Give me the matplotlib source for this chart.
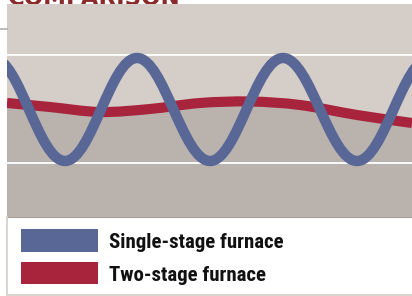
import matplotlib
matplotlib.use('Agg')
import matplotlib.pyplot as plt
from matplotlib.path import Path
from matplotlib.patches import PathPatch, Rectangle
from matplotlib.lines import Line2D
from matplotlib import font_manager

# ---- data ----
single_x = [-14, 58, 130, 203, 276, 350, 423]          # time of swing extremes
single_y = [159, 56, 159, 56, 159, 56, 159]             # temperature at extremes
two_x = [0, 43, 93, 143, 193, 243, 293, 350, 405]
two_y = [114, 110, 105, 108, 114, 115.5, 112, 102, 94]
grid_y = [54, 162]
labels = ['Single-stage furnace', 'Two-stage furnace']
title = 'COMPARISON'

BLUE = '#586796'
RED = '#a8243c'
LIGHT = '#d5cdc8'
DARK = '#bab2ad'

W, H = 412, 296
fig = plt.figure(figsize=(W / 100, H / 100), dpi=100)
fig.patch.set_facecolor('white')

names = {f.name for f in font_manager.fontManager.ttflist}
cond = 'DejaVu Sans'
for cand in ['Roboto Condensed', 'Archivo Narrow', 'Asap Condensed', 'Liberation Sans Narrow']:
    if cand in names:
        cond = cand
        break


def px(x, y):
    return x / W, 1 - y / H


ax = fig.add_axes([7 / W, (H - 217) / H, 405 / W, 213 / H])
ax.set_facecolor(LIGHT)
ax.set_xlim(0, 405)
ax.set_ylim(0, 213)
ax.set_xticks([])
ax.set_yticks([])
for s in ['top', 'left', 'right']:
    ax.spines[s].set_visible(False)
ax.spines['bottom'].set_color('#a9a19c')
ax.spines['bottom'].set_linewidth(0.8)


def extrema_path(xs, ys, k=0.37):
    verts = [(xs[0], ys[0])]
    codes = [Path.MOVETO]
    for i in range(len(xs) - 1):
        dx = xs[i + 1] - xs[i]
        verts += [(xs[i] + k * dx, ys[i]), (xs[i + 1] - k * dx, ys[i + 1]),
                  (xs[i + 1], ys[i + 1])]
        codes += [Path.CURVE4] * 3
    return verts, codes


def smooth_path(xs, ys):
    n = len(xs)
    mx, my = [], []
    for i in range(n):
        a = max(i - 1, 0)
        b = min(i + 1, n - 1)
        mx.append((xs[b] - xs[a]) / (b - a))
        my.append((ys[b] - ys[a]) / (b - a))
    verts = [(xs[0], ys[0])]
    codes = [Path.MOVETO]
    for i in range(n - 1):
        verts += [(xs[i] + mx[i] / 3, ys[i] + my[i] / 3),
                  (xs[i + 1] - mx[i + 1] / 3, ys[i + 1] - my[i + 1] / 3),
                  (xs[i + 1], ys[i + 1])]
        codes += [Path.CURVE4] * 3
    return verts, codes


# fill below two-stage curve
rv, rc = smooth_path(two_x, two_y)
fv = rv + [(two_x[-1], 0), (two_x[0], 0), (two_x[0], two_y[0])]
fc = rc + [Path.LINETO, Path.LINETO, Path.CLOSEPOLY]
ax.add_patch(PathPatch(Path(fv, fc), facecolor=DARK, edgecolor='none', zorder=1))

for gy in grid_y:
    ax.axhline(gy, color='white', lw=1.3, zorder=2)

ax.add_patch(PathPatch(Path(rv, rc), facecolor='none', edgecolor=RED, lw=7.3,
                       capstyle='butt', zorder=3))
bv, bc = extrema_path(single_x, single_y)
ax.add_patch(PathPatch(Path(bv, bc), facecolor='none', edgecolor=BLUE, lw=7.5,
                       capstyle='butt', zorder=4))

# decoration: borders
fig.add_artist(Line2D([7 / W, 7 / W], [1 - 217 / H, 1 - 294.5 / H], color='#d6d2ce', lw=1.3))
fig.add_artist(Line2D([7 / W, 1], [1 - 294.5 / H, 1 - 294.5 / H], color='#d6d2ce', lw=1.3))
fig.add_artist(Line2D([0, 7 / W], [1 - 29 / H, 1 - 29 / H], color='#b5afac', lw=1.2))

# title (mostly cropped, as in the reference)
fig.text(8 / W, 1 - 5 / H, title, color='#8b2a2a', fontsize=16.5, fontweight='bold',
         va='baseline', ha='left', zorder=-1)

# legend
for i, (lab, col) in enumerate(zip(labels, [BLUE, RED])):
    y0 = [229, 262][i]
    y1 = [252, 284][i]
    fig.add_artist(Rectangle((21 / W, 1 - y1 / H), 77 / W, (y1 - y0) / H,
                             transform=fig.transFigure, facecolor=col, edgecolor='none'))
    bx, by = px(109, [248.5, 281][i])
    fig.text(bx, by, lab, fontsize=15, fontweight='bold', family=cond,
             color='#111111', va='baseline', ha='left')

fig.savefig('out.png', dpi=100, facecolor='white')
